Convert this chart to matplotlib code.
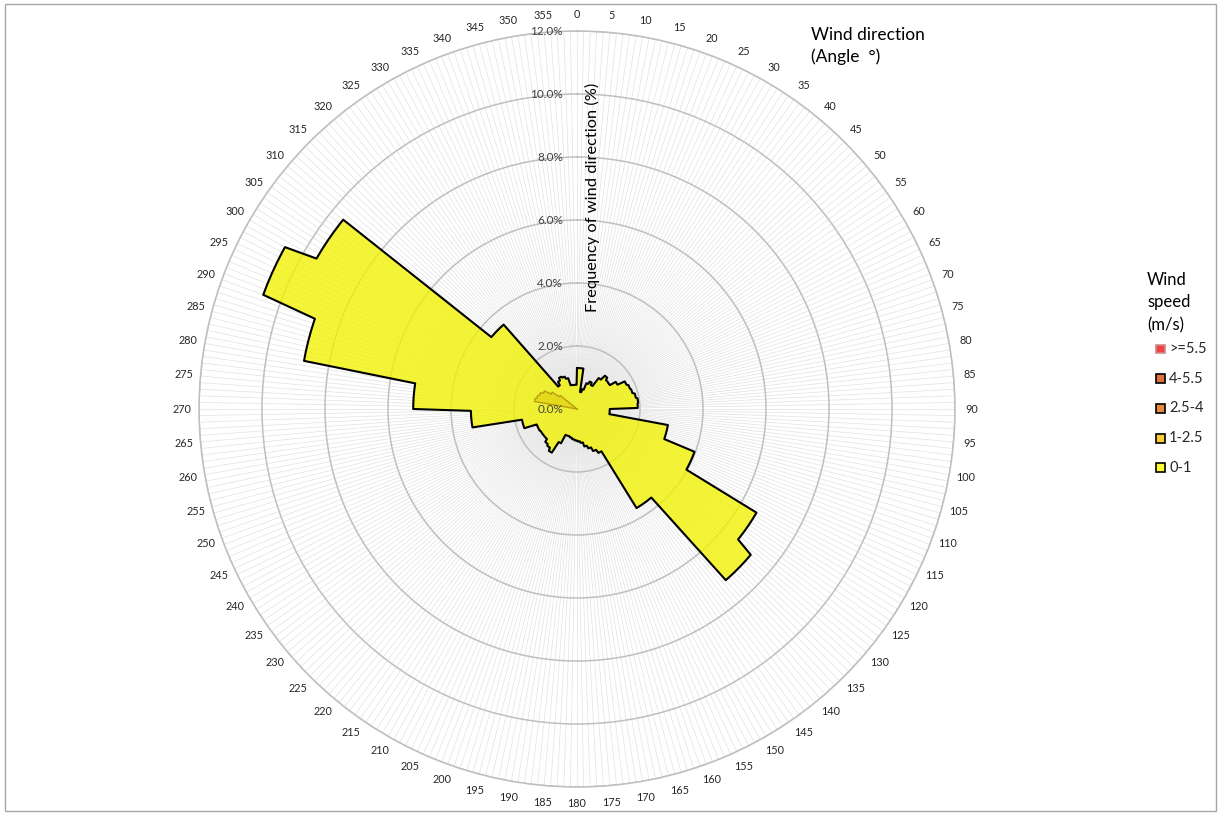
import numpy as np
import matplotlib.pyplot as plt
from matplotlib.patches import Rectangle

plt.rcParams['font.family'] = ['Lato', 'DejaVu Sans']

W, H = 1219, 813

# start angle of each 5 degree direction bin
bin_start = list(range(0, 360, 5))

# frequency (%) of wind speed 0-1 m/s, one value per 5 degree bin
freq_0_1 = [1.30, 1.30, 0.55, 0.65, 0.87, 0.96, 0.88, 1.20,    # 0-39
            1.38, 1.30, 1.29, 1.50, 1.75, 1.80, 1.83, 1.90,    # 40-79
            1.95, 1.93, 1.04, 1.04, 2.93, 2.93, 3.97, 3.97,    # 80-119
            6.58, 6.58, 7.20, 7.20, 3.67, 3.67, 1.55, 1.43,    # 120-159
            1.30, 1.21, 1.08, 1.03, 1.00, 0.97, 0.93, 0.90,    # 160-199
            0.90, 1.20, 1.60, 1.50, 1.45, 1.35, 1.35, 1.35,    # 200-239
            1.37, 1.37, 1.78, 1.78, 3.37, 3.37, 5.20, 5.20,    # 240-279
            8.80, 8.80, 10.60, 10.60, 9.55, 9.55, 3.55, 3.55,  # 280-319
            0.93, 1.05, 1.14, 1.10, 1.02, 0.78, 0.77, 0.77]    # 320-359

# frequency (%) of wind speed 1-2.5 m/s, one value per 5 degree bin
freq_1_2_5 = [0.0] * 56 + [1.37, 1.32, 1.27, 1.18, 0.95, 0.68] + [0.0] * 10

ring_values = [2, 4, 6, 8, 10, 12]

speed_labels = ['>=5.5', '4-5.5', '2.5-4', '1-2.5', '0-1']
speed_colors = ['#F04444', '#E2703A', '#E98B3E', '#FFCC33', '#FFFF33']
speed_edges = ['#D08888', 'black', 'black', 'black', 'black']

# one radar category per degree, each bin holds its value over its 5 degrees
deg = np.arange(360)
theta = np.deg2rad(deg)
v01 = np.repeat(freq_0_1, 5)
v125 = np.repeat(freq_1_2_5, 5)

fig = plt.figure(figsize=(W / 100, H / 100), dpi=100)
cx, cy, R = 577, 409, 378
ax = fig.add_axes([(cx - R) / W, (H - cy - R) / H, 2 * R / W, 2 * R / H], projection='polar')
ax.set_theta_zero_location('N')
ax.set_theta_direction(-1)
ax.set_ylim(0, 12)

# spokes every degree, labels every 5 degrees
ax.set_xticks(theta)
ax.set_xticklabels([str(d) if d % 5 == 0 else '' for d in deg])
ax.tick_params(axis='x', pad=5, labelsize=7.8, length=0, colors='#262626')
ax.xaxis.grid(True, color='#e2e2e2', linewidth=0.5)
ax.set_yticks(ring_values)
ax.set_yticklabels([])
ax.tick_params(axis='y', length=0)
ax.yaxis.grid(True, color='#bfbfbf', linewidth=1.1)
ax.spines['polar'].set_color('#bfbfbf')
ax.spines['polar'].set_linewidth(1.1)

for v in [0] + ring_values:
    ax.annotate(f'{v:.1f}%', xy=(0, v), xytext=(-14, 0), textcoords='offset pixels',
                ha='right', va='center', fontsize=8.5, color='#404040', zorder=5)

# series 0-1
ax.fill(theta, v01, facecolor='#F2F200', alpha=0.78, edgecolor='none', zorder=2)
ax.plot(np.append(theta, theta[0]), np.append(v01, v01[0]), color='black', lw=1.5, zorder=3)

# series 1-2.5
ax.fill(theta, v125, facecolor='#D8C000', alpha=0.45, edgecolor='none', zorder=3)
ax.plot(np.append(theta, theta[0]), np.append(v125, v125[0]), color='#B89E10', lw=1.0, zorder=3)

fig.text(592 / W, 1 - 197 / H, 'Frequency of wind direction (%)', rotation=90,
         ha='center', va='center', fontsize=11.8, color='black')
fig.text(811 / W, 1 - 35 / H, 'Wind direction', ha='left', va='center', fontsize=12.5)
fig.text(811 / W, 1 - 57 / H, '(Angle  °)', ha='left', va='center', fontsize=12.5)

# legend
for txt, y in zip(['Wind', 'speed', '(m/s)'], [280, 302, 325]):
    fig.text(1147 / W, 1 - y / H, txt, ha='left', va='center', fontsize=12)
for i, (lab, c, ec) in enumerate(zip(speed_labels, speed_colors, speed_edges)):
    y = 349 + i * 29.7
    fig.add_artist(Rectangle((1156 / W, 1 - (y + 4.5) / H), 9 / W, 9 / H,
                             transform=fig.transFigure, facecolor=c, edgecolor=ec, lw=1.2))
    fig.text(1169 / W, 1 - y / H, lab, ha='left', va='center', fontsize=10.5, color='#262626')

# chart area border
fig.add_artist(Rectangle((5 / W, 1 - 811 / H), 1211 / W, 807 / H, transform=fig.transFigure,
                         fill=False, edgecolor='#a6a6a6', lw=1))

fig.savefig('out.png', dpi=100)
